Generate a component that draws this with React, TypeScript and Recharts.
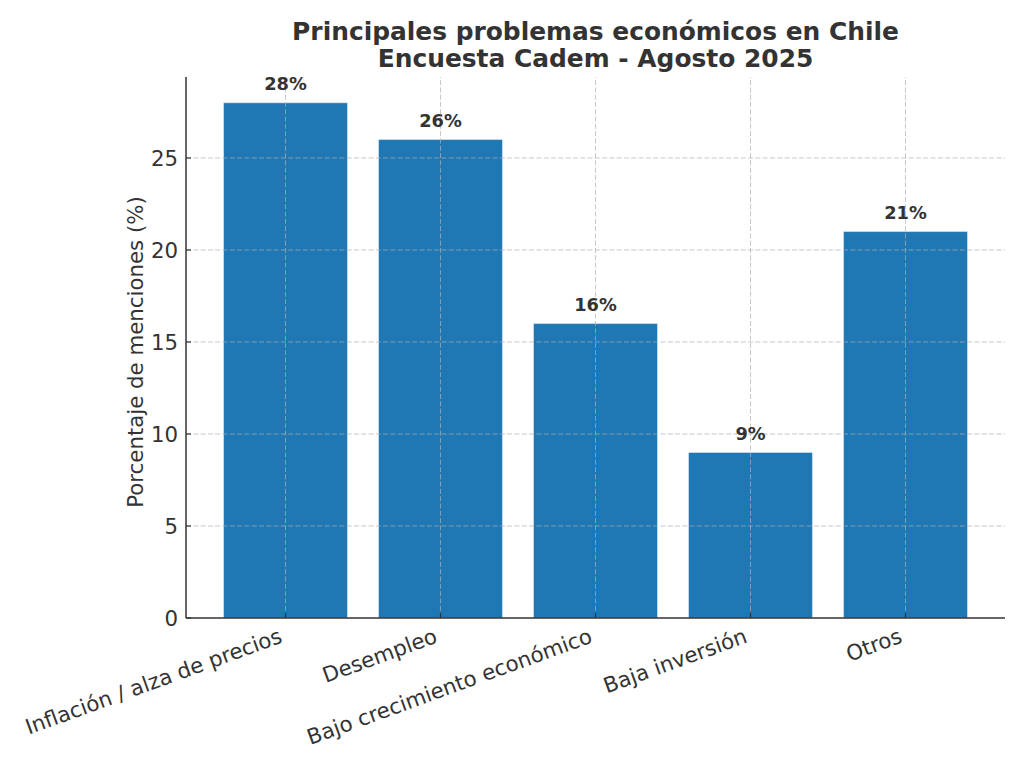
import React from 'react';
import { BarChart, Bar, XAxis, YAxis, ReferenceLine, LabelList } from 'recharts';

// Datos: Encuesta Cadem, agosto 2025
const CATEGORIAS = [
  'Inflación / alza de precios',
  'Desempleo',
  'Bajo crecimiento económico',
  'Baja inversión',
  'Otros',
];
const PORCENTAJES = [28, 26, 16, 9, 21];
const Y_TICKS = [0, 5, 10, 15, 20, 25];
const Y_MAX = 29.4;

const TITULO = ['Principales problemas económicos en Chile', 'Encuesta Cadem - Agosto 2025'];
const Y_LABEL = 'Porcentaje de menciones (%)';

const FONT = '"DejaVu Sans", sans-serif';
const TEXT_COLOR = '#333333';
const BAR_COLOR = '#1f77b4';

const data = CATEGORIAS.map((c, i) => ({ name: c, valor: PORCENTAJES[i] }));

// Tick del eje X: marca hacia adentro y etiqueta rotada 20 grados
const XTick = (props: any) => {
  const { x, y, payload } = props;
  const ax = x - 2;
  const ay = y + 24;
  return (
    <g>
      <line x1={x} y1={y} x2={x} y2={y - 5} stroke={TEXT_COLOR} strokeWidth={1.2} />
      <text
        x={ax}
        y={ay}
        textAnchor="end"
        transform={`rotate(-20, ${ax}, ${ay})`}
        fontFamily={FONT}
        fontSize={21.3}
        fill={TEXT_COLOR}
      >
        {payload.value}
      </text>
    </g>
  );
};

const YTick = (props: any) => {
  const { x, y, payload } = props;
  return (
    <g>
      <line x1={x} y1={y} x2={x + 5} y2={y} stroke={TEXT_COLOR} strokeWidth={1.2} />
      <text x={x - 8} y={y + 7.8} textAnchor="end" fontFamily={FONT} fontSize={21.3} fill={TEXT_COLOR}>
        {payload.value}
      </text>
    </g>
  );
};

const ValueLabel = (props: any) => {
  const { x, y, width, value } = props;
  return (
    <text
      x={x + width / 2}
      y={y - 12.5}
      textAnchor="middle"
      fontFamily={FONT}
      fontWeight="bold"
      fontSize={17.8}
      fill={TEXT_COLOR}
    >
      {`${value}%`}
    </text>
  );
};

const gridProps = {
  stroke: '#b0b0b0',
  strokeOpacity: 0.7,
  strokeWidth: 1,
  strokeDasharray: '5 2.3',
};

export default function App() {
  return (
    <div style={{ position: 'relative', width: 1024, height: 768, background: '#fff' }}>
      <style>{'body{margin:0}'}</style>
      <BarChart
        width={1024}
        height={768}
        data={data}
        margin={{ top: 77, right: 19, bottom: 30, left: 126 }}
        barCategoryGap="10%"
      >
        <XAxis
          dataKey="name"
          height={120}
          padding={{ left: 22, right: 22 }}
          tickLine={false}
          tickSize={0}
          tickMargin={0}
          interval={0}
          axisLine={{ stroke: TEXT_COLOR, strokeWidth: 1.5 }}
          tick={<XTick />}
        />
        <YAxis
          width={60}
          domain={[0, Y_MAX]}
          ticks={Y_TICKS}
          allowDataOverflow
          tickLine={false}
          tickSize={0}
          tickMargin={0}
          axisLine={{ stroke: TEXT_COLOR, strokeWidth: 1.5 }}
          tick={<YTick />}
        />
        <Bar
          dataKey="valor"
          fill={BAR_COLOR}
          stroke="#ffffff"
          strokeOpacity={0.45}
          strokeWidth={1}
          isAnimationActive={false}
        >
          <LabelList dataKey="valor" content={<ValueLabel />} />
        </Bar>
        {Y_TICKS.filter((t) => t > 0).map((t) => (
          <ReferenceLine key={`y${t}`} y={t} {...gridProps} />
        ))}
        {CATEGORIAS.map((c) => (
          <ReferenceLine key={`x${c}`} x={c} {...gridProps} />
        ))}
      </BarChart>
      <svg
        width={1024}
        height={768}
        style={{ position: 'absolute', left: 0, top: 0, pointerEvents: 'none' }}
      >
        {TITULO.map((line, i) => (
          <text
            key={line}
            x={595.5}
            y={39.5 + i * 27.5}
            textAnchor="middle"
            fontFamily={FONT}
            fontWeight="bold"
            fontSize={24.9}
            fill={TEXT_COLOR}
          >
            {line}
          </text>
        ))}
        <text
          x={143}
          y={352}
          textAnchor="middle"
          transform="rotate(-90, 143, 352)"
          fontFamily={FONT}
          fontSize={21.3}
          fill={TEXT_COLOR}
        >
          {Y_LABEL}
        </text>
      </svg>
    </div>
  );
}
